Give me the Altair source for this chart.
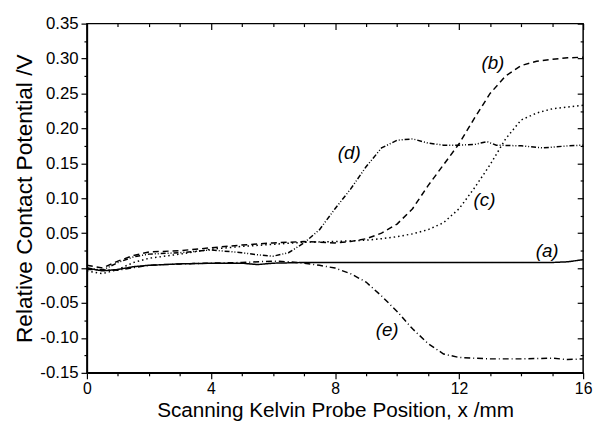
import altair as alt
import pandas as pd

# ---- data ----
xa = [0, 0.5, 1, 1.5, 2, 3, 4, 5, 5.5, 6, 7, 8, 9, 10, 11, 12, 13, 14, 15, 15.5, 16]
va = [0.0, -0.004, -0.002, 0.002, 0.004, 0.006, 0.007, 0.007, 0.005, 0.007, 0.008, 0.008, 0.008, 0.008, 0.008, 0.008, 0.008, 0.008, 0.008, 0.009, 0.012]

xb = [0, 0.5, 1, 1.5, 2, 3, 4, 5, 6, 7, 7.5, 8, 8.5, 9, 9.5, 10, 10.5, 11, 11.5, 12, 12.5, 13, 13.5, 14, 14.5, 15, 15.5, 16]
vb = [0.004, 0.0, 0.01, 0.018, 0.023, 0.025, 0.029, 0.033, 0.036, 0.038, 0.037, 0.036, 0.038, 0.042, 0.05, 0.063, 0.085, 0.118, 0.148, 0.178, 0.215, 0.25, 0.275, 0.29, 0.296, 0.299, 0.301, 0.302]

xc = [0, 0.5, 1, 1.5, 2, 3, 4, 5, 6, 7, 8, 9, 9.5, 10, 10.5, 11, 11.5, 12, 12.5, 13, 13.5, 14, 14.5, 15, 16]
vc = [-0.004, -0.008, -0.002, 0.008, 0.014, 0.02, 0.027, 0.031, 0.034, 0.037, 0.038, 0.04, 0.042, 0.045, 0.049, 0.055, 0.065, 0.085, 0.115, 0.148, 0.185, 0.212, 0.222, 0.228, 0.233]

xd = [0, 0.5, 1, 1.5, 2, 3, 4, 5, 5.5, 6, 6.5, 7, 7.5, 8, 8.5, 9, 9.5, 10, 10.5, 11, 11.5, 12, 12.5, 12.9, 13.2, 14, 14.7, 15.5, 16]
vd = [0.0, -0.003, 0.008, 0.016, 0.02, 0.022, 0.026, 0.022, 0.019, 0.017, 0.022, 0.036, 0.055, 0.085, 0.113, 0.145, 0.172, 0.183, 0.185, 0.179, 0.176, 0.176, 0.177, 0.181, 0.176, 0.175, 0.172, 0.175, 0.176]

xe = [0, 1, 2, 3, 4, 5, 6, 6.5, 7, 7.5, 8, 8.5, 9, 9.5, 10, 10.5, 11, 11.5, 12, 13, 14, 15, 15.5, 16]
ve = [-0.002, -0.003, 0.004, 0.006, 0.007, 0.008, 0.01, 0.009, 0.007, 0.004, 0.0, -0.008, -0.02, -0.04, -0.062, -0.087, -0.108, -0.123, -0.128, -0.13, -0.13, -0.129, -0.131, -0.13]

label_text = ["(a)", "(b)", "(c)", "(d)", "(e)"]
label_x = [14.84, 13.09, 12.82, 8.46, 9.68]
label_y = [0.025, 0.293, 0.098, 0.164, -0.089]

x_major = [0, 4, 8, 12, 16]
x_minor = [1, 2, 3, 5, 6, 7, 9, 10, 11, 13, 14, 15]
y_major = [-0.15, -0.10, -0.05, 0.0, 0.05, 0.10, 0.15, 0.20, 0.25, 0.30, 0.35]
y_minor = [-0.125, -0.075, -0.025, 0.025, 0.075, 0.125, 0.175, 0.225, 0.275, 0.325]

series_names = ["a", "b", "c", "d", "e"]
dashes = [[1, 0], [6, 4], [1.5, 3], [5, 2, 1, 2, 1, 2], [6, 3, 1, 3]]

rows = []
for name, xs, vs in zip(series_names, [xa, xb, xc, xd, xe], [va, vb, vc, vd, ve]):
    for x, v in zip(xs, vs):
        rows.append({"series": name, "x": x, "v": v})
df = pd.DataFrame(rows)
labels = pd.DataFrame({"t": label_text, "x": label_x, "y": label_y})

FONT = "Liberation Sans"

xscale = alt.Scale(domain=[0, 16], nice=False, zero=False)
yscale = alt.Scale(domain=[-0.15, 0.35], nice=False, zero=False)

common = dict(tickColor="black", domainColor="black", labelColor="black", titleColor="black",
              labelFont=FONT, titleFont=FONT, tickWidth=1.2, domainWidth=1.5, grid=False, ticks=True)

lines = alt.Chart(df).mark_line(color="black", strokeWidth=1.5).encode(
    x=alt.X("x:Q", scale=xscale, axis=alt.Axis(
        values=x_major, title="Scanning Kelvin Probe Position, x /mm", tickSize=6,
        labelFontSize=16, titleFontSize=21, titleFontWeight="normal",
        labelPadding=2, titleBaseline="alphabetic", titleY=44,
        labelFlush=False, **common)),
    y=alt.Y("v:Q", scale=yscale, axis=alt.Axis(
        values=y_major, title="Relative Contact Potential /V", tickSize=6,
        labelExpr="replace(format(datum.value, '.2f'), '\u2212', '-')",
        labelFontSize=17, titleFontSize=23, titleFontWeight="normal",
        labelPadding=3, titlePadding=3, labelFlush=False, **common)),
    strokeDash=alt.StrokeDash("series:N", scale=alt.Scale(domain=series_names, range=dashes), legend=None),
    detail="series:N",
)


def tick_layer(xorient, yorient, xv, yv, size, offset):
    kw = dict(labels=False, title=None, domain=False, tickSize=size, offset=offset,
              tickColor="black", tickWidth=1.2, grid=False, ticks=True)
    return alt.Chart(df).mark_line(opacity=0).encode(
        x=alt.X("x:Q", scale=xscale, axis=alt.Axis(orient=xorient, values=xv, **kw)),
        y=alt.Y("v:Q", scale=yscale, axis=alt.Axis(orient=yorient, values=yv, **kw)),
        detail="series:N",
    )


minor_out = tick_layer("bottom", "left", x_minor, y_minor, 3, 0)
major_in = tick_layer("top", "right", x_major, y_major, 6, -6)
minor_in = tick_layer("top", "right", x_minor, y_minor, 3, -3)

text = alt.Chart(labels).mark_text(font=FONT, fontSize=19, fontStyle="italic", color="black").encode(
    x=alt.X("x:Q", scale=xscale, axis=None),
    y=alt.Y("y:Q", scale=yscale, axis=None),
    text="t:N",
)

chart = alt.layer(lines, minor_out, major_in, minor_in, text).resolve_axis(
    x="independent", y="independent").properties(
    width=503, height=354,
    background="white",
    autosize=alt.AutoSizeParams(type="none"),
    padding={"left": 80, "top": 13, "right": 10, "bottom": 48},
).configure_view(stroke="black", strokeWidth=1.5)

chart.save("out.html", embed_options={"renderer": "svg", "actions": False})
